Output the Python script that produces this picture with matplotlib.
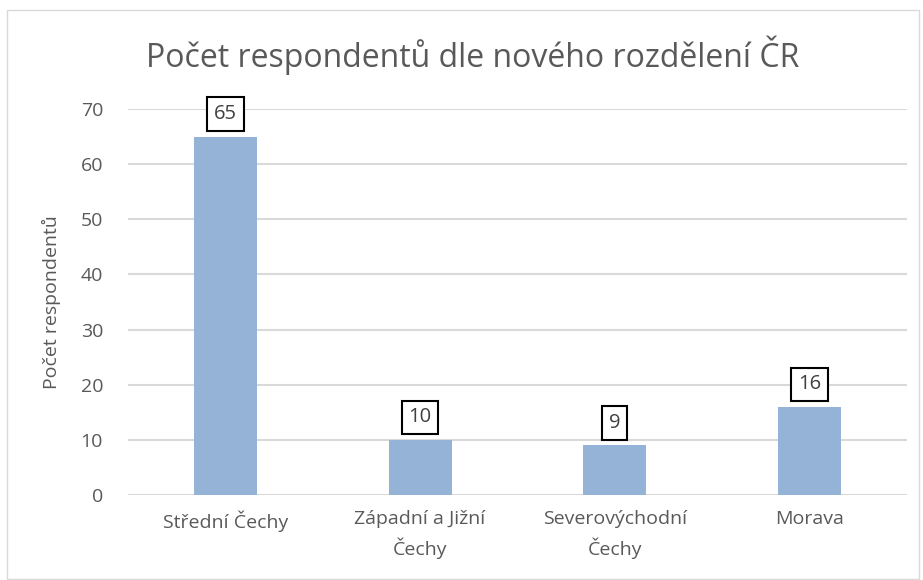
import matplotlib
matplotlib.use("Agg")
import matplotlib.pyplot as plt
from matplotlib.patches import Rectangle

categories = ["Střední Čechy", "Západní a Jižní\nČechy", "Severovýchodní\nČechy", "Morava"]
values = [65, 10, 9, 16]
yticks = [0, 10, 20, 30, 40, 50, 60, 70]

plt.rcParams['font.family'] = ['Open Sans', 'DejaVu Sans']
text_col = '#595959'

fig = plt.figure(figsize=(9.23, 5.8), dpi=100)
ax = fig.add_axes([128/923, 1-495/580, (907-128)/923, (495-109)/580])

x = list(range(len(categories)))
ax.bar(x, values, width=0.324, color='#95B3D7', zorder=3)
ax.set_xlim(-0.5, len(categories)-0.5)
ax.set_ylim(0, 70)
ax.set_yticks(yticks)
ax.set_xticks(x)
ax.set_xticklabels(categories, fontsize=14, color=text_col, linespacing=1.55)
ax.tick_params(axis='y', labelsize=14, labelcolor=text_col, length=0, pad=18)
ax.tick_params(axis='x', length=0, pad=11)
ax.grid(axis='y', color='#d9d9d9', linewidth=1.5, zorder=0)
for s in ax.spines.values():
    s.set_visible(False)

for xi, v in zip(x, values):
    ax.annotate(str(v), (xi, v), xytext=(0, 9), textcoords='offset points',
                ha='center', va='bottom', fontsize=14.5, color='#404040',
                bbox=dict(boxstyle='square,pad=0.33', fc='white', ec='black', lw=1.5), zorder=5)

ax.set_ylabel("Počet respondentů", fontsize=14, color=text_col, labelpad=14)
fig.text(473/923, 1-55/580, "Počet respondentů dle nového rozdělení ČR", ha='center', va='center',
         fontsize=23, color=text_col)

fig.patches.append(Rectangle((7/923, 0.002), 912/923, 1-10/580-0.002, transform=fig.transFigure,
                             fill=False, ec='#d9d9d9', lw=1))

fig.savefig("out.png", dpi=100)
